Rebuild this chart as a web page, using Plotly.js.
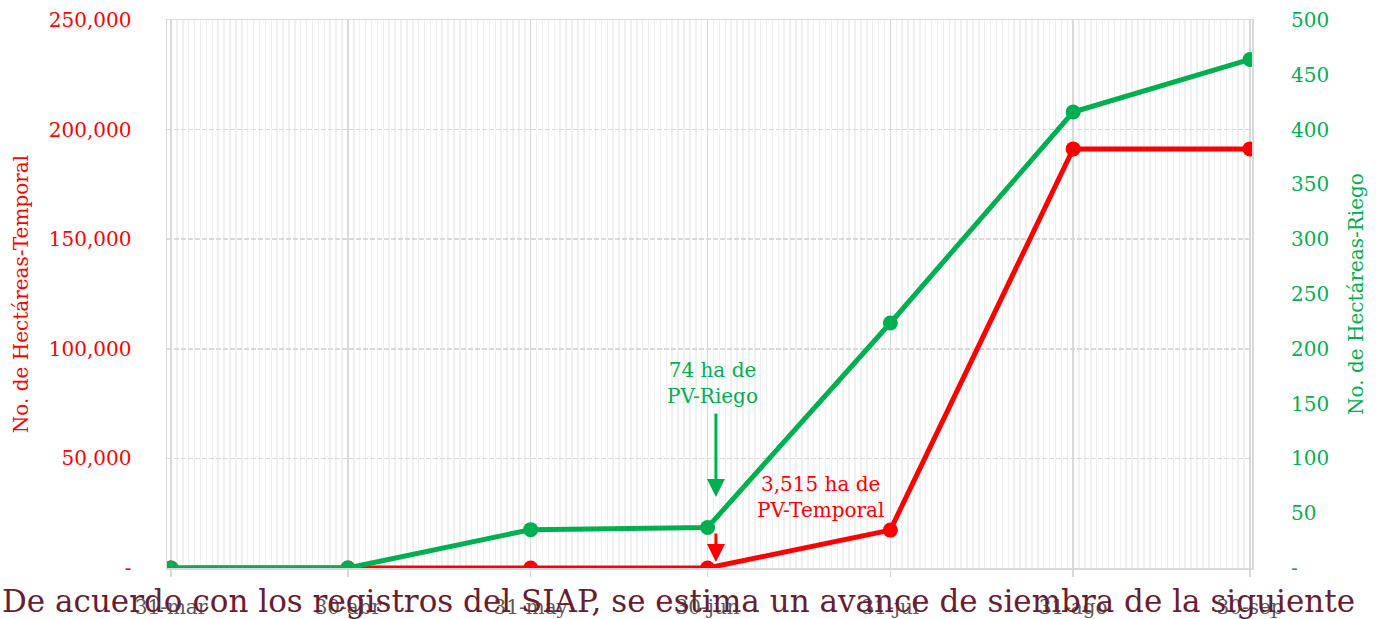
<!DOCTYPE html>
<html>
<head>
<meta charset="utf-8">
<script src="https://cdn.plot.ly/plotly-3.0.1.min.js"></script>
<style>html,body{margin:0;padding:0;background:#fff;}#chart{width:1378px;height:619px;}</style>
</head>
<body>
<div id="chart"></div>
<script>
// ---- data ----
const dates = ['2023-03-31','2023-04-30','2023-05-31','2023-06-30','2023-07-31','2023-08-31','2023-09-30'];
const dateLabels = ['31-mar','30-abr','31-may','30-jun','31-jul','31-ago','30-sep'];
const temporal = [0, 0, 0, 0, 17300, 191200, 191200];
const riego = [0, 0, 35, 37, 223.5, 416, 464];
const leftTicks = [0, 50000, 100000, 150000, 200000, 250000];
const leftTickText = ['-', '50,000', '100,000', '150,000', '200,000', '250,000'];
const rightTicks = [0, 50, 100, 150, 200, 250, 300, 350, 400, 450, 500];
const rightTickText = ['-', '50', '100', '150', '200', '250', '300', '350', '400', '450', '500'];
const leftTitle = 'No. de Hectáreas-Temporal';
const rightTitle = 'No. de Hectáreas-Riego';
const noteRiego = '74 ha de<br>PV-Riego';
const noteTemporal = '3,515 ha de<br>PV-Temporal';
const overlayText = 'De acuerdo con los registros del SIAP, se estima un avance de siembra de la siguiente';

const RED = '#ff0000', GREEN = '#00b050', GRID = '#d9d9d9', FONT = 'DejaVu Serif';

const traces = [
  {x: dates, y: temporal, type: 'scatter', mode: 'lines+markers', yaxis: 'y',
   line: {color: RED, width: 5}, marker: {color: RED, size: 15}, hoverinfo: 'skip'},
  {x: dates, y: riego, type: 'scatter', mode: 'lines+markers', yaxis: 'y2',
   line: {color: GREEN, width: 5}, marker: {color: GREEN, size: 15}, hoverinfo: 'skip'}
];

const layout = {
  width: 1378, height: 619,
  margin: {l: 167, r: 126, t: 20, b: 51, pad: 0},
  paper_bgcolor: '#fff', plot_bgcolor: '#fff',
  showlegend: false,
  font: {family: FONT, size: 20},
  xaxis: {
    type: 'date',
    range: ['2023-03-30 07:40', '2023-09-30 08:00'],
    tickvals: dates, ticktext: dateLabels,
    tickfont: {color: '#595959', size: 20, family: FONT},
    showgrid: true, gridcolor: GRID, gridwidth: 1.5,
    ticks: 'outside', ticklen: 7, tickcolor: GRID, tickwidth: 1.5,
    ticklabelstandoff: 13,
    showline: true, linecolor: GRID, linewidth: 1.5, mirror: true,
    minor: {dtick: 86400000, tick0: '2023-03-31', showgrid: true, gridcolor: '#f0f0f0', gridwidth: 1.5, ticks: ''},
    zeroline: false
  },
  yaxis: {
    range: [0, 250000],
    tickvals: leftTicks, ticktext: leftTickText,
    tickfont: {color: RED, size: 20, family: FONT},
    showgrid: true, gridcolor: GRID, gridwidth: 1.5, griddash: '5px,2px',
    ticks: 'outside', ticklen: 30, tickcolor: 'rgba(0,0,0,0)',
    showline: true, linecolor: GRID, linewidth: 1.5, mirror: true,
    zeroline: false,
    title: {text: leftTitle, font: {color: RED, size: 20, family: FONT}, standoff: 15}
  },
  yaxis2: {
    overlaying: 'y', side: 'right',
    range: [0, 500],
    tickvals: rightTicks, ticktext: rightTickText,
    tickfont: {color: GREEN, size: 20, family: FONT},
    showgrid: false, zeroline: false,
    ticks: 'outside', ticklen: 34, tickcolor: 'rgba(0,0,0,0)',
    title: {text: rightTitle, font: {color: GREEN, size: 20, family: FONT}, standoff: 20}
  },
  annotations: [
    {xref: 'x', yref: 'y2', x: '2023-07-01 10:00', y: 64.8, ax: 0, ay: -85,
     text: '', showarrow: true, arrowcolor: GREEN, arrowwidth: 3, arrowhead: 2, arrowsize: 1.2, standoff: 0, startstandoff: 0},
    {xref: 'x', yref: 'y', x: '2023-07-01 10:00', y: 2740, ax: 0, ay: -30,
     text: '', showarrow: true, arrowcolor: RED, arrowwidth: 3, arrowhead: 2, arrowsize: 1.2, standoff: 0, startstandoff: 0},
    {xref: 'x', yref: 'y2', x: '2023-06-30 18:00', y: 168.8, text: noteRiego, showarrow: false,
     font: {color: GREEN, size: 20, family: FONT}, xanchor: 'center', yanchor: 'middle'},
    {xref: 'x', yref: 'y', x: '2023-07-19 02:00', y: 32400, text: noteTemporal, showarrow: false,
     font: {color: RED, size: 20, family: FONT}, xanchor: 'center', yanchor: 'middle'},
    {xref: 'paper', yref: 'paper', x: 0.471, y: -0.06, text: overlayText, showarrow: false,
     font: {color: '#691C32', size: 31, family: FONT}, xanchor: 'center', yanchor: 'middle'}
  ]
};

Plotly.newPlot('chart', traces, layout, {displayModeBar: false, staticPlot: true});
</script>
</body>
</html>
